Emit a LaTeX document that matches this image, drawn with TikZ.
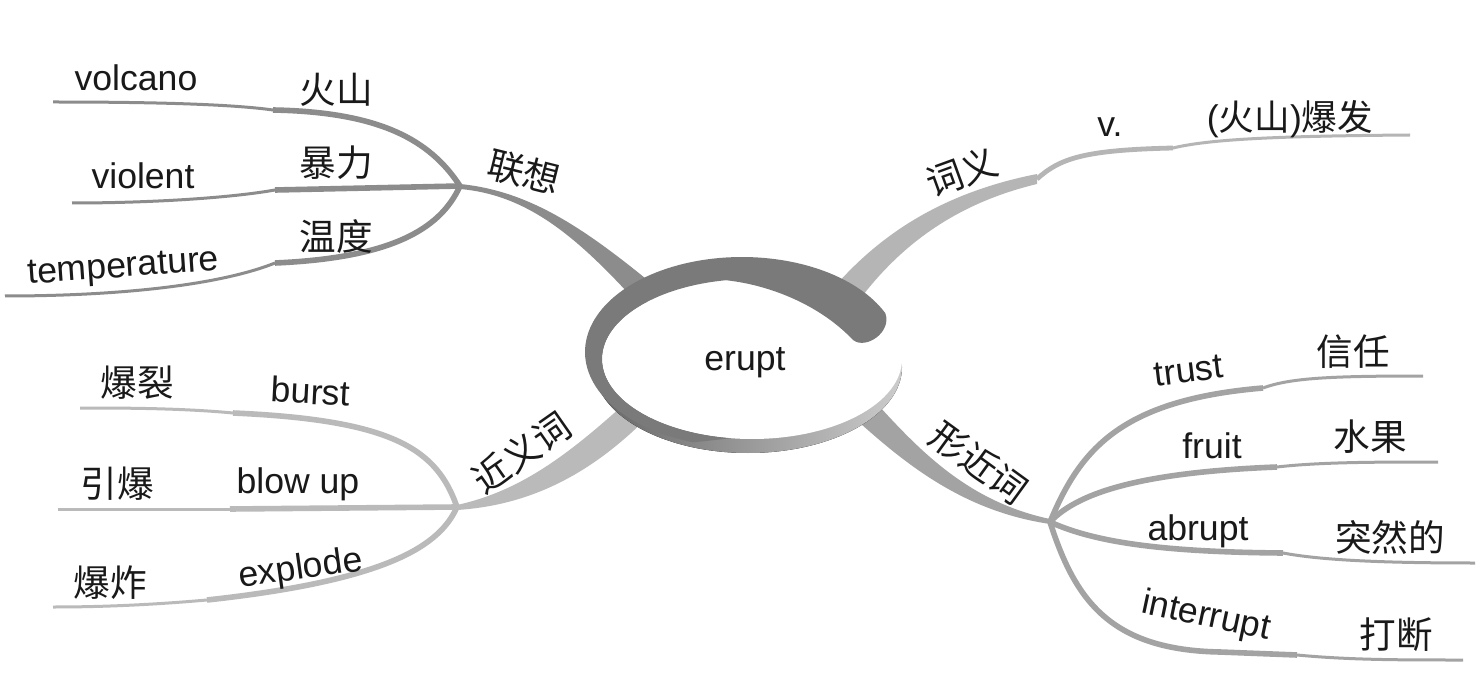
\documentclass[tikz,border=0pt]{standalone}
\usepackage{fontspec}
\setmainfont{Liberation Sans}
\newfontfamily\cjk{Noto Sans CJK SC}
\begin{document}
\begin{tikzpicture}[x=0.5pt,y=-0.5pt,
  en/.style={font=\fontsize{17.8pt}{20pt}\selectfont, text=black!90, inner sep=0pt, anchor=base},
  zh/.style={font=\fontsize{18.3pt}{20pt}\selectfont\cjk, text=black!90, inner sep=0pt, anchor=center},
  ul/.style={color=black!45},
  ur/.style={color=black!29},
  ll/.style={color=black!27},
  lr/.style={color=black!36},
  leafin/.style={line width=2.8pt},
  leafout/.style={line width=1.5pt},
  swirl/.style={fill=black!52}]
\fill[white] (0,0) rectangle (1483,684);
\useasboundingbox (0,0) rectangle (1483,684);

% junctions
\coordinate (J1) at (460,186);
\coordinate (J2) at (1037,179);
\coordinate (J3) at (457,507);
\coordinate (J4) at (1050,522);

% ---- main branches (behind the centre) ----
\fill[ul] (460,184) .. controls (530,191) and (585,228) .. (662,292) -- (640,306) .. controls (580,240) and (530,195) .. (460,189) -- cycle;
\fill[ur] (830,292) .. controls (870,245) and (930,195) .. (1037,174) -- (1037,184) .. controls (945,206) and (890,256) .. (852,310) -- cycle;
\fill[ll] (457,505) .. controls (525,490) and (575,450) .. (645,385) -- (662,402) .. controls (600,470) and (535,505) .. (457,510) -- cycle;
\fill[lr] (860,385) .. controls (910,440) and (960,500) .. (1050,519) -- (1050,524) .. controls (955,510) and (895,455) .. (840,405) -- cycle;

% ---- leaves: upper left ----
\coordinate (k11) at (273,110);
\coordinate (k12) at (275,190);
\coordinate (k13) at (275,263);
\draw[ul, leafin] (J1) .. controls (430,140) and (380,112) .. (k11);
\draw[ul, leafout] (k11) .. controls (230,104) and (150,102) .. (53,102);
\draw[ul, leafin] (J1) -- (k12);
\draw[ul, leafout] (k12) .. controls (230,198) and (150,203) .. (72,203);
\draw[ul, leafin] (J1) .. controls (440,230) and (390,258) .. (k13);
\draw[ul, leafout] (k13) .. controls (220,285) and (120,296) .. (5,296);

% ---- leaves: upper right ----
\coordinate (k21) at (1173,148);
\draw[ur, line width=2.4pt] (J2) .. controls (1060,158) and (1085,150) .. (k21);
\draw[ur, leafout] (k21) .. controls (1210,139) and (1280,136) .. (1410,135);

% ---- leaves: lower left ----
\coordinate (k31) at (233,413);
\coordinate (k32) at (230,509);
\coordinate (k33) at (207,600);
\draw[ll, leafin] (J3) .. controls (437,450) and (395,420) .. (k31);
\draw[ll, leafout] (k31) .. controls (180,408) and (120,408) .. (80,408);
\draw[ll, leafin] (J3) -- (k32);
\draw[ll, leafout] (k32) -- (58,509);
\draw[ll, leafin] (J3) .. controls (440,545) and (390,580) .. (k33);
\draw[ll, leafout] (k33) .. controls (150,605) and (100,607) .. (53,607);

% ---- leaves: lower right ----
\coordinate (k41) at (1263,388);
\coordinate (k42) at (1277,467);
\coordinate (k43) at (1283,553);
\coordinate (k44) at (1297,655);
\draw[lr, leafin] (J4) .. controls (1080,450) and (1120,400) .. (k41);
\draw[lr, leafout] (k41) .. controls (1290,378) and (1330,376) .. (1423,376);
\draw[lr, leafin] (J4) .. controls (1080,490) and (1150,472) .. (k42);
\draw[lr, leafout] (k42) .. controls (1320,462) and (1380,462) .. (1438,462);
\draw[lr, leafin] (J4) .. controls (1090,540) and (1150,552) .. (k43);
\draw[lr, leafout] (k43) .. controls (1320,560) and (1380,563) .. (1475,563);
\draw[lr, leafin] (J4) .. controls (1075,600) and (1110,650) .. (1220,652) -- (k44);
\draw[lr, leafout] (k44) .. controls (1350,660) and (1400,660) .. (1463,660);

% ---- centre ----
\fill[left color=black!60, right color=black!20] (748,367) ellipse [x radius=154, y radius=86];
\fill[white] (752,359) ellipse [x radius=150, y radius=80];
\fill[swirl] plot[domain=24:252, samples=100, variable=\t] ({742+157*cos(\t)},{352-95*sin(\t)})
  -- plot[domain=262:100, samples=100, variable=\t] ({752+150*cos(\t)},{359-80*sin(\t)})
  .. controls (770,285) and (820,305) .. (853,340)
  .. controls (866,350) and (892,332) .. (885.4,313.4) -- cycle;
\node[en] (c) at (745,370) {erupt};

% ---- labels ----
\node[zh, rotate=-14] (b1) at (524,172) {联想};
\node[zh, rotate=20] (b2) at (962,172) {词义};
\node[zh, rotate=35] (b3) at (521,453) {近义词};
\node[zh, rotate=-36] (b4) at (979,463) {形近词};

\node[en] (e11) at (136,91) {volcano};
\node[en] (e12) at (143,189) {violent};
\node[en, rotate=4] (e13) at (124,277) {temperature};
\node[zh] (z11) at (336,90) {火山};
\node[zh] (z12) at (336,163) {暴力};
\node[zh] (z13) at (336,237) {温度};

\node[en] (e21) at (1110,137) {v.};
\node[en] (z21) at (1290,131) {({\cjk 火山}){\cjk 爆发}};

\node[zh] (z31) at (137,383) {爆裂};
\node[zh] (z32) at (117,484) {引爆};
\node[zh] (z33) at (110,583) {爆炸};
\node[en, rotate=-3] (e31) at (310,404) {burst};
\node[en] (e32) at (298,493) {blow up};
\node[en, rotate=8] (e33) at (302,579) {explode};

\node[en, rotate=7] (e41) at (1190,382) {trust};
\node[en] (e42) at (1212,458) {fruit};
\node[en] (e43) at (1198,540) {abrupt};
\node[en, rotate=-12] (e44) at (1204,626) {interrupt};
\node[zh] (z41) at (1353,352) {信任};
\node[zh] (z42) at (1370,437) {水果};
\node[zh] (z43) at (1390,537) {突然的};
\node[zh] (z44) at (1396,635) {打断};
\end{tikzpicture}
\end{document}
